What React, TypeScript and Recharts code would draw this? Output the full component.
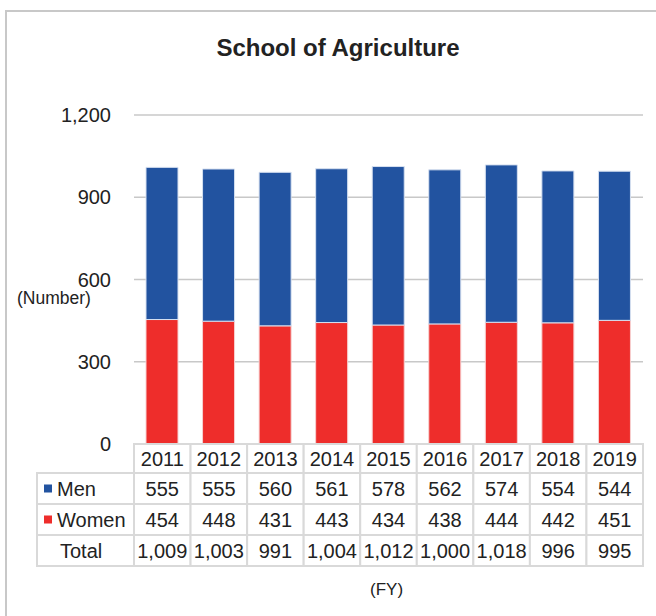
import React from 'react';
import { BarChart, Bar, XAxis, YAxis, CartesianGrid } from 'recharts';

const years = ['2011', '2012', '2013', '2014', '2015', '2016', '2017', '2018', '2019'];
const men = [555, 555, 560, 561, 578, 562, 574, 554, 544];
const women = [454, 448, 431, 443, 434, 438, 444, 442, 451];
const totals = [1009, 1003, 991, 1004, 1012, 1000, 1018, 996, 995];
const yTicks = [0, 300, 600, 900, 1200];

const BLUE = '#2253a0';
const RED = '#ee2d2b';
const BORDER = '#d9d9d9';
const FONT = '"Liberation Sans", Arial, sans-serif';

const data = years.map((year, i) => ({
  year,
  men: men[i],
  women: women[i],
  total: totals[i],
}));

// plot area 134..643 wide, split into one table column per year
const PLOT_LEFT = 134;
const PLOT_RIGHT = 643;
const COL_W = (PLOT_RIGHT - PLOT_LEFT) / years.length;
const LABEL_LEFT = 37;
// row boundaries below the axis, relative to axis line
const ROWS = [0, 29, 60, 91, 122];

const fmt = (v: number) => v.toLocaleString('en-US');

const TableTick = (props: any) => {
  const { x, y, payload } = props;
  const i = payload.index;
  const d = data[i];
  const x0 = x - COL_W / 2;
  const cells = [d.year, fmt(d.men), fmt(d.women), fmt(d.total)];
  return (
    <g>
      {cells.map((c, r) => (
        <g key={r}>
          <rect
            x={x0}
            y={y + ROWS[r]}
            width={COL_W}
            height={ROWS[r + 1] - ROWS[r]}
            fill="#fff"
            stroke={BORDER}
            strokeWidth={2}
          />
          <text
            x={x}
            y={y + (ROWS[r] + ROWS[r + 1]) / 2}
            textAnchor="middle"
            dominantBaseline="central"
            fontSize={20}
            fontFamily={FONT}
            fill="#222"
          >
            {c}
          </text>
        </g>
      ))}
      {i === 0 && (
        <g>
          {[1, 2, 3].map((r) => (
            <rect
              key={r}
              x={LABEL_LEFT}
              y={y + ROWS[r]}
              width={x0 - LABEL_LEFT}
              height={ROWS[r + 1] - ROWS[r]}
              fill="#fff"
              stroke={BORDER}
              strokeWidth={2}
            />
          ))}
          <rect x={44} y={y + (ROWS[1] + ROWS[2]) / 2 - 4} width={8} height={8} fill={BLUE} />
          <rect x={44} y={y + (ROWS[2] + ROWS[3]) / 2 - 4} width={8} height={8} fill={RED} />
          {['Men', 'Women', 'Total'].map((t, k) => (
            <text
              key={t}
              x={k === 2 ? 60 : 57}
              y={y + (ROWS[k + 1] + ROWS[k + 2]) / 2}
              dominantBaseline="central"
              fontSize={20}
              fontFamily={FONT}
              fill="#222"
            >
              {t}
            </text>
          ))}
        </g>
      )}
    </g>
  );
};

export default function App() {
  return (
    <div
      style={{
        position: 'absolute',
        left: 0,
        top: 0,
        width: 656,
        height: 616,
        overflow: 'hidden',
        background: '#fff',
        fontFamily: FONT,
      }}
    >
      <div
        style={{
          position: 'absolute',
          left: 5,
          top: 10,
          width: 700,
          height: 700,
          border: '2px solid #c8c8c8',
        }}
      />
      <BarChart
        width={656}
        height={616}
        data={data}
        margin={{ top: 115, right: 13, bottom: 50, left: 0 }}
        barSize={32}
        style={{ position: 'absolute', left: 0, top: 0 }}
      >
        <CartesianGrid vertical={false} stroke="#c8c8c8" strokeWidth={1.5} />
        <YAxis
          width={PLOT_LEFT}
          domain={[0, 1200]}
          ticks={yTicks}
          axisLine={false}
          tickLine={false}
          tickSize={0}
          tickMargin={23}
          tickFormatter={fmt}
          tick={{ fontSize: 20, fontFamily: FONT, fill: '#222' }}
        />
        <XAxis
          dataKey="year"
          height={122}
          axisLine={false}
          tickLine={false}
          tickSize={0}
          tickMargin={0}
          interval={0}
          tick={<TableTick />}
        />
        <Bar dataKey="women" stackId="a" fill={RED} stroke="#f7d0d0" strokeWidth={1} isAnimationActive={false} />
        <Bar dataKey="men" stackId="a" fill={BLUE} stroke="#d6e0f0" strokeWidth={1} isAnimationActive={false} />
      </BarChart>
      <div
        style={{
          position: 'absolute',
          left: 0,
          width: 676,
          top: 34,
          textAlign: 'center',
          fontSize: 24,
          fontWeight: 'bold',
          color: '#222',
        }}
      >
        School of Agriculture
      </div>
      <div style={{ position: 'absolute', left: 17, top: 288, fontSize: 17.5, color: '#222' }}>(Number)</div>
      <div style={{ position: 'absolute', left: 370, top: 580, fontSize: 17, color: '#222' }}>(FY)</div>
    </div>
  );
}
